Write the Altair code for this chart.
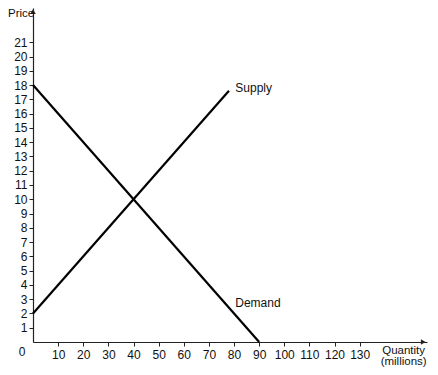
import altair as alt
import pandas as pd

# ---- data ----
supply_q = [0, 78]
supply_p = [2, 17.6]
demand_q = [0, 90]
demand_p = [18, 0]
x_ticks = [10, 20, 30, 40, 50, 60, 70, 80, 90, 100, 110, 120, 130]
y_ticks = list(range(1, 22))

label_text = ["Supply", "Demand"]
label_q = [80.5, 80.5]
label_p = [17.8, 2.7]

X_MAX = 156.8
Y_MAX = 23.4
FONT = "Liberation Sans"

lines_df = pd.DataFrame({
    "q": supply_q + demand_q,
    "p": supply_p + demand_p,
    "series": ["Supply"] * len(supply_q) + ["Demand"] * len(demand_q),
})
labels_df = pd.DataFrame({"t": label_text, "q": label_q, "p": label_p})

xs = alt.Scale(domain=[0, X_MAX], nice=False, zero=False)
ys = alt.Scale(domain=[0, Y_MAX], nice=False, zero=False)

x_axis = alt.Axis(values=x_ticks, tickCount=40, format="d", title=None, grid=False,
                  domainColor="#222", tickColor="#222", tickSize=4, labelPadding=3,
                  domainWidth=1.2)
y_axis = alt.Axis(values=y_ticks, tickCount=40, format="d", title=None, grid=False,
                  domainColor="#222", tickColor="#222", tickSize=4, labelPadding=2,
                  domainWidth=1.2)


def X(field="q"):
    return alt.X(f"{field}:Q", scale=xs)


def Y(field="p"):
    return alt.Y(f"{field}:Q", scale=ys)


lines = alt.Chart(lines_df).mark_line(color="black", strokeWidth=2.2, clip=False).encode(
    x=alt.X("q:Q", scale=xs, axis=x_axis),
    y=alt.Y("p:Q", scale=ys, axis=y_axis),
    detail="series:N",
)

labels = alt.Chart(labels_df).mark_text(align="left", baseline="middle", font=FONT,
                                        fontSize=12, color="#111").encode(
    x=X(), y=Y(), text="t:N")

arrow_df = pd.DataFrame({"q": [X_MAX - 1.5], "p": [0]})
x_arrow = alt.Chart(arrow_df).mark_point(shape="triangle-right", filled=True, color="#222",
                                         size=30, opacity=1, clip=False).encode(x=X(), y=Y())
y_arrow_df = pd.DataFrame({"q": [0], "p": [Y_MAX - 0.25]})
y_arrow = alt.Chart(y_arrow_df).mark_point(shape="triangle-up", filled=True, color="#222",
                                           size=30, opacity=1, clip=False).encode(x=X(), y=Y())

zero_df = pd.DataFrame({"q": [0], "p": [0], "t": ["0"]})
zero = alt.Chart(zero_df).mark_text(align="center", baseline="middle", font=FONT, fontSize=12,
                                    color="#111", dx=-11, dy=10).encode(
    x=X(), y=Y(), text="t:N")

price_df = pd.DataFrame({"q": [0], "p": [22.95], "t": ["Price"]})
price = alt.Chart(price_df).mark_text(align="left", baseline="middle", font=FONT, fontSize=11.5,
                                      color="#111", dx=-25).encode(
    x=X(), y=Y(), text="t:N")

qty_df = pd.DataFrame({"q": [147.5], "p": [0], "t": ["Quantity"]})
qty = alt.Chart(qty_df).mark_text(align="center", baseline="alphabetic", font=FONT, fontSize=11.5,
                                  color="#111", dy=12).encode(
    x=X(), y=Y(), text="t:N")
mil_df = pd.DataFrame({"q": [147.5], "p": [0], "t": ["(millions)"]})
mil = alt.Chart(mil_df).mark_text(align="center", baseline="alphabetic", font=FONT, fontSize=11.5,
                                  color="#111", dy=23).encode(
    x=X(), y=Y(), text="t:N")

chart = alt.layer(lines, labels, x_arrow, y_arrow, zero, price, qty, mil).properties(
    width=394, height=334,
    padding={"left": 25, "top": 0, "right": 3, "bottom": 25},
    autosize=alt.AutoSizeParams(type="none"),
).configure_view(stroke=None).configure_axis(
    labelOverlap=False, labelFlush=False, labelFont=FONT, labelFontSize=12,
    labelColor="#111", labelBound=False,
)

chart.save("out.html", embed_options={"renderer": "svg", "actions": False})
